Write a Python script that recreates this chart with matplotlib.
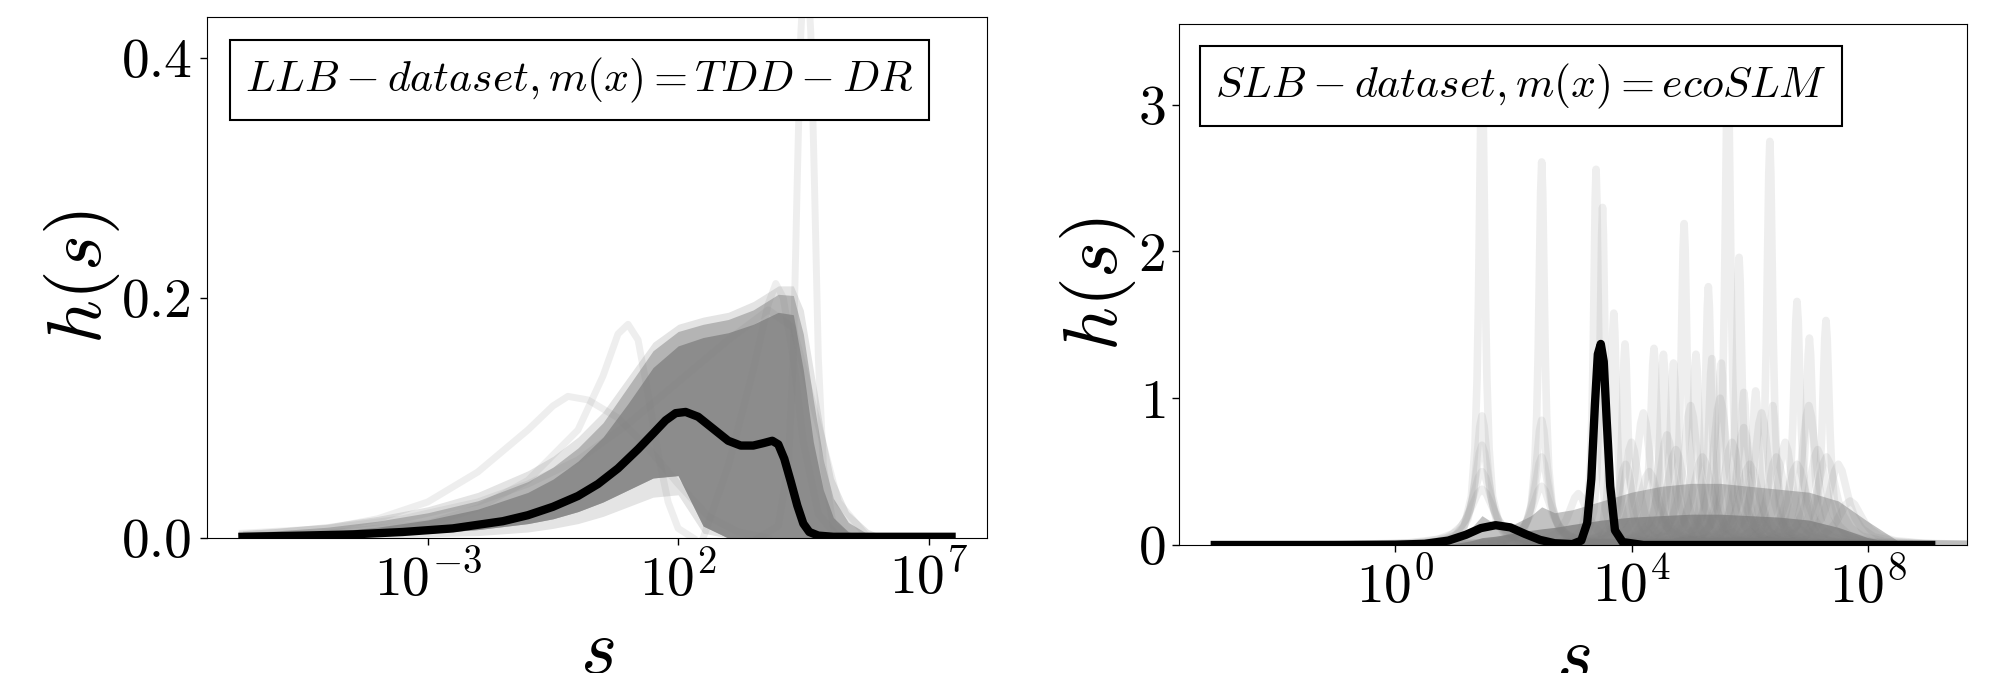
import numpy as np
import matplotlib.pyplot as plt
from matplotlib.ticker import FixedLocator, NullLocator, LogFormatterSciNotation

plt.rcParams.update({
    'font.family': 'serif',
    'font.serif': ['cmr10'],
    'mathtext.fontset': 'cm',
    'axes.formatter.use_mathtext': True,
    'axes.unicode_minus': False,
})

# ---- LLB dataset, m(x) = TDD-DR -------------------------------------------
# mean density, x given as log10(s)
llb_mean_logs = [-6.7, -5.5, -4.5, -3.5, -2.5, -1.5, -1.0, -0.5, 0.0, 0.4, 0.8, 1.2,
                 1.5, 1.75, 1.95, 2.15, 2.4, 2.7, 3.0, 3.25, 3.5, 3.7, 3.88, 4.0,
                 4.12, 4.25, 4.38, 4.5, 4.62, 4.8, 5.1, 6.0, 7.46]
llb_mean_h = [0.001, 0.002, 0.003, 0.005, 0.008, 0.014, 0.019, 0.026, 0.035, 0.045,
              0.058, 0.074, 0.087, 0.098, 0.104, 0.105, 0.101, 0.091, 0.081, 0.077,
              0.077, 0.079, 0.081, 0.078, 0.066, 0.047, 0.027, 0.012, 0.005, 0.002,
              0.001, 0.001, 0.001]

# envelopes of the bulk of the individual densities
llb_band_logs = [-6.7, -6.0, -5.0, -4.0, -3.0, -2.0, -1.0, -0.5, 0.0, 0.5, 1.0, 1.5,
                 2.0, 2.5, 3.0, 3.5, 4.0, 4.3, 4.5, 4.7, 4.9, 5.1, 5.4, 5.8, 6.2]
llb_band_hi = [0.002, 0.003, 0.005, 0.009, 0.015, 0.024, 0.038, 0.049, 0.064, 0.084,
               0.112, 0.142, 0.160, 0.167, 0.171, 0.178, 0.188, 0.186, 0.140, 0.080,
               0.040, 0.017, 0.005, 0.001, 0.0]
llb_band_lo = [0.001, 0.0015, 0.002, 0.003, 0.004, 0.007, 0.012, 0.016, 0.022, 0.030,
               0.040, 0.050, 0.052, 0.010, 0.0, 0.0, 0.0, 0.0, 0.0, 0.0, 0.0, 0.0,
               0.0, 0.0, 0.0]
llb_fringe_hi = [0.004, 0.006, 0.009, 0.014, 0.021, 0.031, 0.047, 0.059, 0.075, 0.096,
                 0.126, 0.156, 0.172, 0.178, 0.182, 0.190, 0.203, 0.202, 0.170, 0.115,
                 0.065, 0.033, 0.013, 0.003, 0.0]
llb_haze_hi = [0.006, 0.008, 0.012, 0.018, 0.026, 0.038, 0.056, 0.068, 0.084, 0.105,
               0.134, 0.163, 0.178, 0.184, 0.188, 0.197, 0.210, 0.210, 0.190, 0.140,
               0.090, 0.050, 0.022, 0.007, 0.0]
llb_haze_lo = [0.0, 0.0, 0.0, 0.0, 0.001, 0.002, 0.005, 0.008, 0.012, 0.018,
               0.026, 0.034, 0.036, 0.004, 0.0, 0.0, 0.0, 0.0, 0.0, 0.0, 0.0, 0.0,
               0.0, 0.0, 0.0]

# single densities standing apart from the bulk
llb_outliers = [
    ([-6.7, -5.0, -3.0, -2.0, -1.0, 0.0, 0.5, 0.8, 1.0, 1.2, 1.4, 1.6, 1.8, 2.0, 2.3],
     [0.002, 0.004, 0.012, 0.025, 0.048, 0.090, 0.135, 0.170, 0.178, 0.165, 0.120,
      0.070, 0.030, 0.008, 0.0]),
    ([-6.7, -5.0, -4.0, -3.0, -2.0, -1.0, -0.5, -0.2, 0.2, 0.8, 1.4, 2.0, 2.6, 3.2, 3.8],
     [0.003, 0.008, 0.016, 0.030, 0.055, 0.090, 0.110, 0.118, 0.115, 0.100, 0.075,
      0.045, 0.018, 0.005, 0.0]),
    ([3.6, 4.0, 4.2, 4.3, 4.38, 4.45, 4.55, 4.65, 4.72, 4.8, 4.9, 5.1, 5.5],
     [0.0, 0.01, 0.06, 0.15, 0.30, 0.42, 0.50, 0.42, 0.30, 0.15, 0.06, 0.01, 0.0]),
    ([2.5, 3.0, 3.5, 3.8, 3.95, 4.1, 4.3, 4.5, 4.8, 5.2],
     [0.0, 0.06, 0.14, 0.195, 0.212, 0.20, 0.15, 0.08, 0.02, 0.0]),
    ([-6.7, -5.0, -3.5, -2.0, -1.0, 0.0, 1.0, 2.0, 3.0, 3.8, 4.3, 4.7, 5.2, 5.8],
     [0.004, 0.008, 0.016, 0.030, 0.045, 0.065, 0.095, 0.130, 0.165, 0.190, 0.175,
      0.110, 0.030, 0.0]),
]

# ---- SLB dataset, m(x) = ecoSLM ------------------------------------------
slb_mean_logs = [-3.05, -1.0, 0.0, 0.5, 0.9, 1.2, 1.45, 1.7, 1.95, 2.2, 2.45, 2.7, 3.0,
                 3.15, 3.25, 3.32, 3.38, 3.43, 3.48, 3.53, 3.58, 3.64, 3.72, 3.85,
                 4.2, 9.07]
slb_mean_h = [0.0, 0.0, 0.002, 0.008, 0.03, 0.07, 0.115, 0.135, 0.12, 0.075, 0.035,
              0.012, 0.006, 0.03, 0.15, 0.45, 0.95, 1.30, 1.37, 1.25, 0.85, 0.40,
              0.10, 0.02, 0.0, 0.0]

slb_band_logs = [0.5, 1.0, 1.3, 1.47, 1.7, 2.0, 2.3, 2.48, 2.7, 3.0, 3.5, 4.0, 4.5,
                 5.0, 5.5, 6.0, 6.5, 7.0, 7.5, 8.0, 8.5, 9.0]
slb_band_dark = [0.0, 0.01, 0.03, 0.05, 0.06, 0.08, 0.10, 0.11, 0.12, 0.14, 0.17,
                 0.19, 0.20, 0.21, 0.21, 0.20, 0.19, 0.17, 0.12, 0.05, 0.01, 0.0]
slb_band_mid = [0.0, 0.04, 0.12, 0.20, 0.14, 0.14, 0.20, 0.26, 0.22, 0.24, 0.30,
                0.36, 0.40, 0.42, 0.42, 0.40, 0.38, 0.36, 0.30, 0.16, 0.03, 0.0]

# individual sharp densities: peak position log10(s), height, half width (decades)
slb_peak_logs = [1.47, 2.48, 3.40, 3.51, 3.70, 3.89, 4.38, 4.54, 4.71, 4.89, 5.09,
                 5.30, 5.36, 5.52, 5.63, 5.82, 5.90, 6.10, 6.34, 6.39, 6.80, 7.01,
                 7.29,
                 1.47, 1.47, 1.47, 1.47, 2.48, 2.48, 2.48, 3.10, 3.90, 4.00, 4.20,
                 4.30, 4.60, 4.75, 5.00, 5.20, 5.50, 5.70, 5.90, 6.00, 6.20, 6.45,
                 6.60, 6.80, 7.00, 7.15, 7.30, 7.50, 7.70]
slb_peak_h = [3.30, 2.61, 2.56, 2.30, 1.58, 1.37, 1.34, 1.30, 1.24, 2.19, 1.30,
              1.76, 1.27, 1.24, 3.30, 1.96, 1.04, 1.05, 2.75, 0.95, 1.66, 1.41,
              1.53,
              0.88, 0.68, 0.50, 0.38, 0.85, 0.60, 0.40, 0.35, 0.55, 0.70, 0.90,
              0.50, 0.75, 0.65, 0.95, 0.60, 1.00, 0.70, 0.80, 0.55, 0.90, 0.60,
              0.70, 0.55, 0.95, 0.65, 0.60, 0.55, 0.30]
slb_peak_w = [0.06, 0.06, 0.05, 0.05, 0.06, 0.06, 0.07, 0.07, 0.07, 0.06, 0.07,
              0.06, 0.07, 0.07, 0.06, 0.06, 0.07, 0.07, 0.06, 0.07, 0.07, 0.07,
              0.07,
              0.12, 0.15, 0.20, 0.25, 0.12, 0.15, 0.20, 0.20, 0.15, 0.15, 0.15,
              0.20, 0.15, 0.18, 0.15, 0.20, 0.15, 0.18, 0.15, 0.20, 0.15, 0.18,
              0.15, 0.20, 0.15, 0.18, 0.20, 0.20, 0.25]

# Lorentzian peak profile, offset in half widths -> relative height
peak_u = [-14, -8, -5, -3, -2, -1.4, -1, -0.6, -0.3, 0, 0.3, 0.6, 1, 1.4, 2, 3, 5, 8, 14]
peak_rel = [0.005, 0.015, 0.038, 0.10, 0.20, 0.34, 0.50, 0.74, 0.92, 1.0, 0.92, 0.74,
            0.50, 0.34, 0.20, 0.10, 0.038, 0.015, 0.005]

W, H = 2005, 673
fig = plt.figure(figsize=(W / 100, H / 100), dpi=100)
ax1 = fig.add_axes([207 / W, 1 - 538 / H, 780 / W, 521 / H])
ax2 = fig.add_axes([1179 / W, 1 - 545 / H, 788 / W, 521 / H])

GREY = 'gray'
LIGHT_ALPHA = 0.13


def s(logs):
    return 10.0 ** np.asarray(logs, dtype=float)


def log_limits(logs, margin=0.05):
    lo, hi = min(logs), max(logs)
    pad = (hi - lo) * margin
    return 10.0 ** (lo - pad), 10.0 ** (hi + pad)


# left panel
ax1.fill_between(s(llb_band_logs), llb_haze_lo, llb_haze_hi, color='#e4e4e4', lw=0, zorder=1)
ax1.fill_between(s(llb_band_logs), llb_band_lo, llb_fringe_hi, color='#b4b4b4', lw=0, zorder=1)
ax1.fill_between(s(llb_band_logs), llb_band_lo, llb_band_hi, color='#8c8c8c', lw=0, zorder=1)
for logs, h in llb_outliers:
    ax1.plot(s(logs), h, color=GREY, alpha=LIGHT_ALPHA, lw=5, solid_joinstyle='round', zorder=2)
ax1.plot(s(llb_mean_logs), llb_mean_h, color='black', lw=6, solid_joinstyle='round', zorder=3)

# right panel
ax2.fill_between(s(slb_band_logs), 0, slb_band_mid, color='#c2c2c2', lw=0, zorder=1)
ax2.fill_between(s(slb_band_logs), 0, slb_band_dark, color='#8e8e8e', lw=0, zorder=1)
for c, h, w in zip(slb_peak_logs, slb_peak_h, slb_peak_w):
    logs = [c + w * u for u in peak_u]
    ax2.plot(s(logs), [h * r for r in peak_rel], color=GREY, alpha=LIGHT_ALPHA, lw=5.5,
             solid_joinstyle='round', zorder=2)
ax2.plot(s(slb_mean_logs), slb_mean_h, color='black', lw=6, solid_joinstyle='round', zorder=3)

panels = [
    (ax1, r'$LLB-dataset,m(x)=TDD-DR$', [1e-3, 1e2, 1e7], [0, 0.2, 0.4],
     log_limits(llb_mean_logs), (0, 0.434), (0.049, 0.9265)),
    (ax2, r'$SLB-dataset,m(x)=ecoSLM$', [1e0, 1e4, 1e8], [0, 1, 2, 3],
     log_limits(slb_mean_logs), (0, 3.55), (0.046, 0.928)),
]
for ax, label, xt, yt, xlim, ylim, pos in panels:
    ax.set_xscale('log')
    ax.set_xlim(*xlim)
    ax.set_ylim(*ylim)
    ax.xaxis.set_major_locator(FixedLocator(xt))
    ax.xaxis.set_major_formatter(LogFormatterSciNotation())
    ax.xaxis.set_minor_locator(NullLocator())
    ax.set_yticks(yt)
    ax.tick_params(labelsize=40, length=5, width=1, pad=5)
    ax.set_xlabel(r'$s$', fontsize=56, labelpad=8)
    ax.set_ylabel(r'$h(s)$', fontsize=55, labelpad=0)
    ax.text(pos[0], pos[1], label, transform=ax.transAxes, ha='left', va='top',
            fontsize=31.5, zorder=10,
            bbox=dict(boxstyle='square,pad=0.35', fc='white', ec='black', lw=1.5))

ax1.set_yticklabels(['0.0', '0.2', '0.4'])

fig.savefig('out.png', dpi=100)
